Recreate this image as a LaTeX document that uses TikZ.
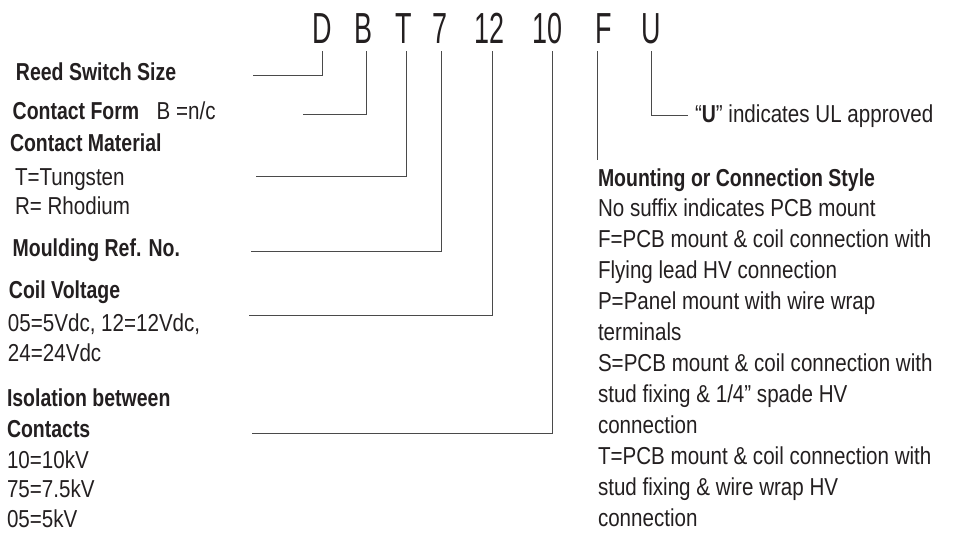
\documentclass[tikz,border=0pt]{standalone}
\usepackage{fontspec}
\setmainfont{Liberation Sans}
\newfontfamily\regf{Liberation Sans}[FakeStretch=0.84]
\newfontfamily\boldf{Liberation Sans}[FakeStretch=0.795]
\newfontfamily\ttlf{Liberation Sans}[FakeStretch=0.62]
\definecolor{ink}{HTML}{231F20}
\definecolor{wire}{HTML}{4A4A4A}
\begin{document}
\begin{tikzpicture}[x=1pt,y=-1pt,
  every node/.style={inner sep=0pt,outer sep=0pt,text=ink},
  ttl/.style={anchor=base,font=\ttlf\fontsize{43.5}{43.5}\selectfont},
  hd/.style={anchor=base west,font=\boldf\bfseries\fontsize{24.5}{28}\selectfont},
  tx/.style={anchor=base west,font=\regf\fontsize{24.5}{28}\selectfont},
  wirel/.style={draw=wire,line width=1pt}]
\useasboundingbox (0,0) rectangle (957,532);

% title code
\node[ttl] (tD)  at (322,44)   {D};
\node[ttl] (tB)  at (363.5,44) {B};
\node[ttl] (tT)  at (403.5,44) {T};
\node[ttl] (t7)  at (440,44)   {7};
\node[ttl] (t12) at (489,44)   {12};
\node[ttl] (t10) at (547.5,44) {10};
\node[ttl] (tF)  at (603.5,44) {F};
\node[ttl] (tU)  at (651.5,44) {U};

% tick tops
\coordinate (kD)  at (322.7,51.5);
\coordinate (kB)  at (366.7,51.5);
\coordinate (kT)  at (406,51.5);
\coordinate (k7)  at (441.5,51.5);
\coordinate (k12) at (492,51.5);
\coordinate (k10) at (552.7,51.5);
\coordinate (kF)  at (597.7,51.5);
\coordinate (kU)  at (651.3,51.5);

% free ends
\coordinate (eD)  at (253,76);
\coordinate (eB)  at (303,114.3);
\coordinate (eT)  at (256,176.7);
\coordinate (e7)  at (251,251.7);
\coordinate (e12) at (249,315);
\coordinate (e10) at (252,433.5);
\coordinate (eF)  at (597.7,160);
\coordinate (eU)  at (687.7,115.7);

\draw[wirel] (kD) |- (eD);
\draw[wirel] (kB) |- (eB);
\draw[wirel] (kT) |- (eT);
\draw[wirel] (k7) |- (e7);
\draw[wirel] (k12) |- (e12);
\draw[wirel] (k10) |- (e10);
\draw[wirel] (kF) -- (eF);
\draw[wirel] (kU) |- (eU);

% left column
\node[hd] (rss)  at (16,80.5)  {Reed Switch Size};
\node[hd] (cf)   at (12.7,119) {Contact Form};
\node[tx] (cfb)  at (156.7,119) {B =n/c};
\node[hd] (cm)   at (10,151)   {Contact Material};
\node[tx] (cm1)  at (15,185)   {T=Tungsten};
\node[tx] (cm2)  at (15,214)   {R= Rhodium};
\node[hd] (mr)   at (12.7,256) {Moulding Ref. No.};
\node[hd] (cv)   at (9,298)    {Coil Voltage};
\node[tx] (cv1)  at (8,331)    {05=5Vdc, 12=12Vdc,};
\node[tx] (cv2)  at (8,361)    {24=24Vdc};
\node[hd] (iso)  at (7,406)    {Isolation between};
\node[hd] (iso2) at (7,437)    {Contacts};
\node[tx] (iso3) at (7,468)    {10=10kV};
\node[tx] (iso4) at (7,497.5)  {75=7.5kV};
\node[tx] (iso5) at (7,527)    {05=5kV};

% right column
\node[tx] (ul) at (695,122) {“{\boldf\bfseries U}” indicates UL approved};
\node[hd] (ms) at (598,186.5) {Mounting or Connection Style};
\node[tx] (m1)  at (598,216) {No suffix indicates PCB mount};
\node[tx] (m2)  at (598,247) {F=PCB mount \& coil connection with};
\node[tx] (m3)  at (598,278) {Flying lead HV connection};
\node[tx] (m4)  at (598,309) {P=Panel mount with wire wrap};
\node[tx] (m5)  at (598,340) {terminals};
\node[tx] (m6)  at (598,371) {S=PCB mount \& coil connection with};
\node[tx] (m7)  at (598,402) {stud fixing \& 1/4” spade HV};
\node[tx] (m8)  at (598,433) {connection};
\node[tx] (m9)  at (598,464) {T=PCB mount \& coil connection with};
\node[tx] (m10) at (598,495) {stud fixing \& wire wrap HV};
\node[tx] (m11) at (598,526) {connection};
\end{tikzpicture}
\end{document}
